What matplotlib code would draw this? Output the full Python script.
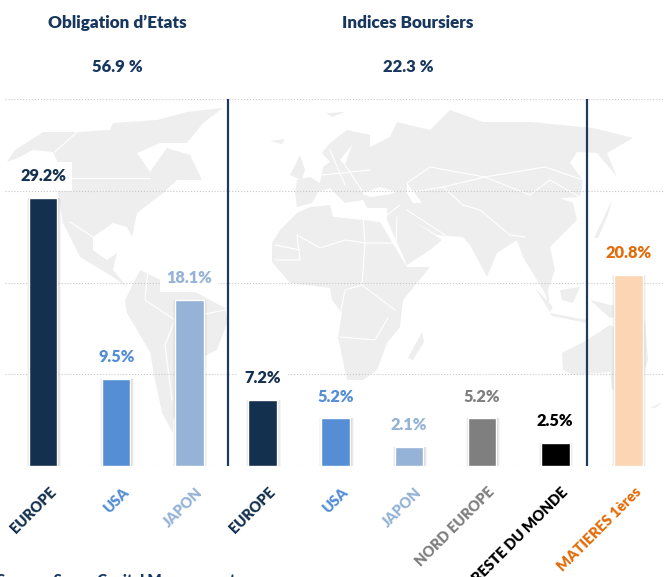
import matplotlib.pyplot as plt
from matplotlib.patches import Polygon

plt.rcParams['font.family'] = ['Lato', 'DejaVu Sans']

categories = ['EUROPE', 'USA', 'JAPON', 'EUROPE', 'USA', 'JAPON',
              'NORD EUROPE', 'RESTE DU MONDE', 'MATIERES 1ères']
values = [29.2, 9.5, 18.1, 7.2, 5.2, 2.1, 5.2, 2.5, 20.8]
bar_colors = ['#14304f', '#558ed5', '#95b3d7', '#14304f', '#558ed5', '#95b3d7',
              '#7f7f7f', '#000000', '#fcd5b5']
label_colors = ['#14304f', '#558ed5', '#95b3d7', '#14304f', '#558ed5', '#95b3d7',
                '#7f7f7f', '#000000', '#e36c09']
value_labels = ['29.2%', '9.5%', '18.1%', '7.2%', '5.2%', '2.1%', '5.2%', '2.5%', '20.8%']

# background world map, rough outlines traced in picture pixels
north_america = [(7, 162), (15, 150), (43, 132), (77, 132), (110, 130), (113, 123), (157, 120),
                 (187, 112), (223, 108), (203, 123), (187, 143), (160, 143), (137, 153), (150, 172),
                 (167, 148), (190, 155), (202, 180), (177, 180), (163, 193), (137, 213), (132, 237),
                 (127, 227), (113, 223), (93, 237), (93, 250), (107, 260), (117, 253), (113, 270),
                 (127, 287), (113, 277), (80, 257), (63, 223), (58, 193), (60, 167), (53, 152),
                 (33, 150), (20, 157)]
south_america = [(140, 270), (167, 283), (197, 293), (225, 308), (228, 320), (217, 350), (203, 357),
                 (190, 395), (173, 420), (173, 433), (162, 413), (155, 380), (150, 352), (127, 313),
                 (125, 300)]
africa = [(272, 243), (280, 230), (297, 213), (310, 207), (330, 205), (333, 217), (363, 220),
          (380, 222), (407, 267), (430, 267), (403, 300), (400, 327), (387, 343), (377, 370),
          (363, 380), (347, 380), (338, 337), (342, 313), (332, 300), (330, 288), (290, 283),
          (272, 262)]
eurasia = [(297, 180), (295, 193), (297, 207), (312, 203), (318, 192), (330, 188), (345, 203),
           (363, 200), (367, 208), (387, 208), (387, 220), (407, 265), (430, 250), (442, 240),
           (427, 230), (415, 222), (437, 235), (463, 237), (470, 245), (487, 277), (497, 253),
           (517, 240), (523, 257), (545, 293), (550, 310), (548, 290), (555, 270), (550, 247),
           (577, 220), (573, 203), (560, 198), (580, 197), (583, 180), (570, 163), (577, 152),
           (597, 153), (617, 177), (607, 153), (633, 138), (593, 128), (530, 122), (483, 122),
           (450, 110), (430, 130), (397, 122), (390, 137), (370, 147), (370, 135), (347, 130),
           (330, 143), (322, 153), (330, 162), (323, 167), (320, 183), (310, 177)]
australia = [(562, 353), (563, 370), (573, 375), (610, 372), (612, 390), (640, 385), (648, 360),
             (645, 320), (630, 335), (610, 325), (587, 340)]
islands = [[(290, 175), (300, 155), (305, 170), (302, 180)],
           [(270, 141), (285, 139), (282, 144)],
           [(422, 332), (408, 358), (413, 360), (424, 342)],
           [(594, 238), (612, 200), (608, 215), (598, 238)],
           [(560, 290), (580, 287), (573, 303), (562, 300)],
           [(535, 288), (553, 307), (550, 312)],
           [(550, 313), (587, 320), (587, 323), (552, 316)],
           [(590, 300), (640, 312), (610, 318)],
           [(326, 113), (345, 112), (332, 117)],
           [(650, 408), (663, 402), (655, 408)]]
# seas cut out of the land shapes
seas = [[(363, 193), (380, 187), (397, 192), (387, 195), (370, 197)],
        [(407, 183), (422, 203), (413, 203), (407, 193)],
        [(340, 160), (352, 145), (345, 165)]]
borders = [[(77, 132), (55, 152)], [(60, 178), (150, 178)], [(93, 237), (70, 222)],
           [(148, 270), (145, 300), (175, 320), (165, 345), (172, 400)], [(175, 320), (225, 310)],
           [(397, 217), (396, 243), (365, 243), (363, 217)],
           [(297, 235), (320, 248), (345, 240), (365, 243)],
           [(365, 243), (362, 285), (345, 290), (340, 315)], [(275, 260), (300, 260), (297, 235)],
           [(340, 337), (375, 340), (388, 318)], [(395, 310), (362, 285)],
           [(407, 183), (430, 167), (485, 177), (545, 167), (583, 180)],
           [(407, 193), (443, 187), (485, 177)],
           [(485, 177), (530, 195), (550, 180), (580, 197)],
           [(463, 205), (480, 210), (510, 235), (525, 237)],
           [(407, 210), (445, 235)], [(443, 187), (463, 205)],
           [(330, 150), (345, 185)], [(345, 165), (365, 195)], [(322, 175), (370, 170)],
           [(387, 215), (400, 205)], [(275, 245), (300, 250)]]

fig = plt.figure(figsize=(6.65, 5.77), dpi=100)

# map layer, full figure in pixel units
bg = fig.add_axes([0, 0, 1, 1], zorder=0)
bg.set_xlim(0, 665)
bg.set_ylim(577, 0)
bg.axis('off')
for shape in [north_america, south_america, africa, eurasia, australia] + islands:
    bg.add_patch(Polygon(shape, closed=True, fc='#eeeeee', ec='none'))
for shape in seas:
    bg.add_patch(Polygon(shape, closed=True, fc='white', ec='none'))
for line in borders:
    bg.plot([p[0] for p in line], [p[1] for p in line], color='white', lw=0.8)

ax = fig.add_axes([5 / 665, (577 - 466) / 577, 660 / 665, 367 / 577], zorder=1)
ax.patch.set_alpha(0)

x = list(range(len(values)))

# soft shadow on the right side of each bar
for w, a in [(0.47, 0.05), (0.44, 0.08), (0.41, 0.12)]:
    ax.bar([i + 0.012 for i in x], values, width=w, color='#555555', alpha=a, zorder=2)
ax.bar(x, values, width=0.39, color=bar_colors, edgecolor='white', linewidth=1.0, zorder=3)

ax.set_xlim(-0.52, 8.5)
ax.set_ylim(0, 40)
ax.set_yticks([0, 10, 20, 30, 40])
ax.set_yticklabels([])
ax.grid(axis='y', linestyle=':', color='#c8c8c8', linewidth=0.8)
ax.set_axisbelow(True)
ax.tick_params(length=0)
for s in ax.spines.values():
    s.set_visible(False)

for pos in (2.527, 7.43):
    ax.axvline(pos, color='#1f3a5f', linewidth=1.6, zorder=4)

for i, v in enumerate(values):
    ax.annotate(value_labels[i], (i, v), xytext=(0, 15.6), textcoords='offset points',
                ha='center', va='center', fontsize=11.8, fontweight='heavy',
                color=label_colors[i], zorder=5,
                bbox=dict(fc='white', ec='none', pad=4.5))

# labels sit a little to the right of the bar centre
ax.set_xticks([i + 0.08 for i in x])
ax.set_xticklabels(categories, rotation=45, ha='right', va='top', rotation_mode='anchor',
                   fontsize=10.5, fontweight='heavy')
for lab, c in zip(ax.get_xticklabels(), label_colors):
    lab.set_color(c)
ax.tick_params(axis='x', pad=14)

title_color = '#17375e'
for cx, head, total in [(117, 'Obligation d’Etats', '56.9 %'), (408, 'Indices Boursiers', '22.3 %')]:
    bg.text(cx, 23, head, ha='center', va='center', fontsize=12.3, fontweight='heavy', color=title_color)
    bg.text(cx, 67, total, ha='center', va='center', fontsize=12, fontweight='heavy', color=title_color)

fig.text(-3 / 665, -8 / 577, 'Source : Seven Capital Management', ha='left', va='baseline',
         fontsize=10.6, fontweight='heavy', color=title_color)

fig.savefig('out.png', dpi=100)
